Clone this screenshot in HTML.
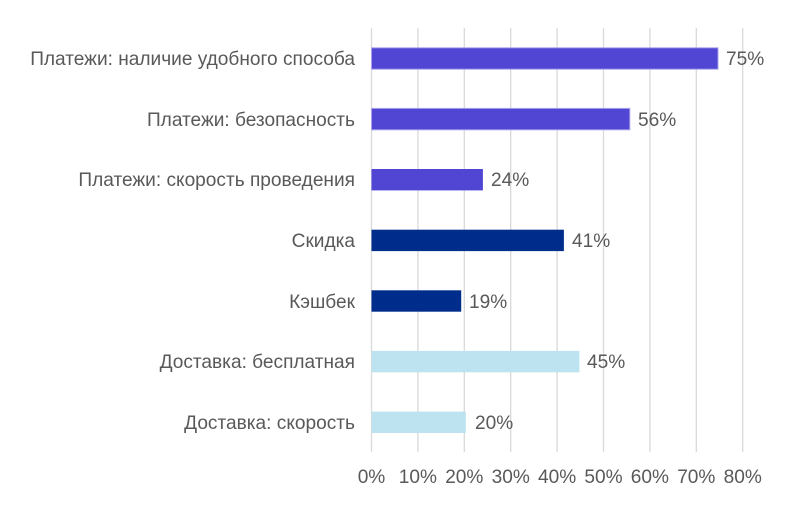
<!DOCTYPE html>
<html><head><meta charset="utf-8"><style>
html,body{margin:0;padding:0;background:#fff;}
svg text{font-family:"Liberation Sans",sans-serif;font-size:19.1px;fill:#595959;}
</style></head><body>
<svg width="793" height="501" xmlns="http://www.w3.org/2000/svg">
<g stroke="#d9d9d9" stroke-width="1.3">
<line x1="371.5" y1="28" x2="371.5" y2="452"/>
<line x1="417.9" y1="28" x2="417.9" y2="452"/>
<line x1="464.3" y1="28" x2="464.3" y2="452"/>
<line x1="510.7" y1="28" x2="510.7" y2="452"/>
<line x1="557.1" y1="28" x2="557.1" y2="452"/>
<line x1="603.5" y1="28" x2="603.5" y2="452"/>
<line x1="649.9" y1="28" x2="649.9" y2="452"/>
<line x1="696.3" y1="28" x2="696.3" y2="452"/>
<line x1="742.7" y1="28" x2="742.7" y2="452"/>
</g>
<g>
<rect x="371.5" y="47.8" width="346.5" height="21.4" fill="#5046d3" stroke="#a9a2ea" stroke-width="1"/>
<rect x="371.5" y="108.4" width="258.3" height="21.4" fill="#5046d3" stroke="#a9a2ea" stroke-width="1"/>
<rect x="371.5" y="169.0" width="111.4" height="21.4" fill="#5046d3"/>
<rect x="371.5" y="229.7" width="192.4" height="21.4" fill="#002d8c"/>
<rect x="371.5" y="290.3" width="89.7" height="21.4" fill="#002d8c"/>
<rect x="371.5" y="350.9" width="207.9" height="21.4" fill="#bde3f0"/>
<rect x="371.5" y="411.6" width="94.3" height="21.4" fill="#bde3f0"/>
</g>
<g text-anchor="end">
<text x="355" y="65">Платежи: наличие удобного способа</text>
<text x="355" y="126">Платежи: безопасность</text>
<text x="355" y="186">Платежи: скорость проведения</text>
<text x="355" y="247">Скидка</text>
<text x="355" y="308">Кэшбек</text>
<text x="355" y="368">Доставка: бесплатная</text>
<text x="355" y="429">Доставка: скорость</text>
</g>
<g>
<text x="726" y="65">75%</text>
<text x="638" y="126">56%</text>
<text x="491" y="186">24%</text>
<text x="572" y="247">41%</text>
<text x="469" y="308">19%</text>
<text x="587" y="368">45%</text>
<text x="475" y="429">20%</text>
</g>
<g text-anchor="middle">
<text x="371.5" y="483">0%</text>
<text x="417.9" y="483">10%</text>
<text x="464.3" y="483">20%</text>
<text x="510.7" y="483">30%</text>
<text x="557.1" y="483">40%</text>
<text x="603.5" y="483">50%</text>
<text x="649.9" y="483">60%</text>
<text x="696.3" y="483">70%</text>
<text x="742.7" y="483">80%</text>
</g>
</svg>
</body></html>
